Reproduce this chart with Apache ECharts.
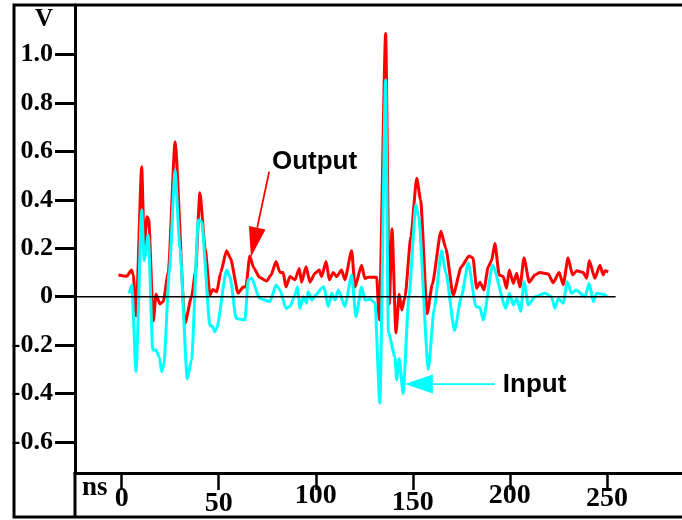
<!DOCTYPE html>
<html><head><meta charset="utf-8">
<script src="https://cdn.jsdelivr.net/npm/echarts@6/dist/echarts.min.js"></script>
<style>html,body{margin:0;padding:0;background:#fff}#c{width:682px;height:520px}</style>
</head><body><div id="c"></div>
<script>
// ---- data (ns, V) ----
const outputTime = [-1.7,2.6,5.1,6,7.4,10.3,11.6,13.0,13.9,16.3,17.7,19.7,21.4,24,27.5,32.6,36,38,40.3,43,45.5,47,49,51,54,56,60,62.6,64,66,68,71,74.7,77,79.5,81.6,83.2,84.6,86.7,89.3,91.5,92.7,95,97,99.6,101.8,103,105.3,107,109,110.8,113.3,115,118.5,120.2,123.6,125.3,127,129,131.4,132.7,136,137.9,139.3,141.3,143,144.3,146,149,152,154,157.4,160,164.5,167,170.8,175,179,181,182.9,184.6,186.6,188.9,190.6,192.3,194.5,196.6,198.3,199.7,201.8,203.5,205.2,207.3,210,212.9,215.5,219.8,222.3,225.4,227.5,230,232.3,234.4,237.8,239.6,240.9,243.8,246.4,248.1,249,250.7];
const outputVolt = [0.09,0.085,0.11,0.09,-0.08,0.537,0.21,0.33,0.32,-0.10,0.01,-0.03,-0.02,0.1,0.64,-0.11,0.0,0.1,0.43,0.2,0.007,0.03,0.02,0.1,0.19,0.16,0.015,0.04,0.04,0.168,0.12,0.08,0.065,0.09,0.145,0.10,0.1,0.04,0.083,0.07,0.117,0.06,0.124,0.06,0.097,0.11,0.083,0.145,0.07,0.10,0.083,0.11,0.07,0.19,0.04,0.13,0.075,0.08,0.08,0.08,-0.096,1.088,-0.03,0.28,-0.15,0.01,-0.055,0.0,0.25,0.49,0.4,-0.07,0.05,0.27,0.2,0.007,0.124,0.168,0.16,0.035,0.06,0.028,0.124,0.15,0.22,0.09,0.083,0.035,0.11,0.055,0.097,0.04,0.16,0.06,0.09,0.10,0.094,0.058,0.1,0.05,0.16,0.09,0.107,0.1,0.076,0.15,0.076,0.13,0.09,0.107,0.103];
const inputTime = [3.9,5.2,7.4,10.3,11.6,13.7,16,17.7,19.4,20.6,21.8,24.5,27.5,30,33.8,36,39.5,41.2,45.5,46.5,48,49,54,55.8,59,63.5,65.2,67,71,76.4,79.5,81.6,84.6,86.7,89.3,90.5,91.9,93.6,95.3,96,97.9,100.5,103,104.2,106.4,108.2,109.9,111.6,115,118.5,120.7,123.6,125.3,128,130.5,133,136,137.4,140.8,141.7,143,145,148,151.6,153,158,161,164.8,167,171.5,175,178.6,182.5,184.6,186.3,191.1,198,199.7,201.8,203.5,205.6,207.3,209.5,212.9,218.1,221.5,223.2,225,227.5,229.6,231.8,234.1,238.7,240.9,243,244.7,247.3,250.2];
const inputVolt = [0.014,0.048,-0.31,0.358,0.15,0.255,-0.22,-0.22,-0.25,-0.31,-0.275,0.1,0.52,0.2,-0.34,-0.26,0.317,0.31,-0.12,-0.12,-0.145,-0.13,0.11,0.083,-0.09,-0.096,0.07,0.076,-0.007,-0.02,0.048,0.028,-0.048,-0.04,0.007,0.04,-0.048,0.0,-0.027,0.02,-0.014,0.011,0.035,0.041,-0.041,0.014,-0.014,0.028,-0.04,0.09,-0.083,0.04,-0.014,-0.01,-0.025,-0.44,0.895,-0.145,-0.25,-0.344,-0.255,-0.4,0.0,0.38,0.33,-0.30,-0.05,0.19,0.1,-0.14,0.0,0.14,-0.04,-0.045,-0.096,0.13,-0.048,0.014,-0.034,-0.007,-0.06,0.062,-0.034,0.0,0.014,0.0,-0.048,-0.007,-0.027,0.062,0.014,0.028,0.0,0.055,-0.02,0.014,0.011,0.003];
const zeroLineTime = [-24.06, 254.5];
const zeroLineVolt = [0, 0];
const xTickValues = [0, 50, 100, 150, 200, 250];
const yTickValues = [-0.6, -0.4, -0.2, 0, 0.2, 0.4, 0.6, 0.8, 1.0];
const xAxisName = 'ns';
const yAxisName = 'V';
const outputLabel = 'Output';
const inputLabel = 'Input';

// annotation anchors in data units
const outputAnno = { textAt: [77.4, 0.557], from: [76.0, 0.517], to: [66.6, 0.164] };
const inputAnno  = { textAt: [196.4, -0.365], from: [192.3, -0.361], to: [145.9, -0.361] };

const zip = (a, b) => a.map((v, i) => [v, b[i]]);

const chart = echarts.init(document.getElementById('c'), null, { renderer: 'canvas' });
const serif = '"Liberation Serif", "Times New Roman", serif';
const sans = '"Liberation Sans", Arial, Helvetica, sans-serif';

// line heights used to stagger the x tick labels vertically, as in the original
const xLineHeights = { 0: 42, 50: 52, 100: 36, 150: 50, 200: 36, 250: 42 };
const Y_MIN = -0.7285, Y_MAX = 1.2054;

chart.setOption({
  animation: false,
  backgroundColor: '#fff',
  grid: { left: 75, top: 5, right: 0, bottom: 47, containLabel: false },
  xAxis: {
    type: 'value', min: -24.06, max: 288.7, position: 'bottom',
    axisLine: { show: true, onZero: false, lineStyle: { color: '#000', width: 3 } },
    axisTick: { show: true, inside: false, customValues: xTickValues, length: 17, lineStyle: { color: '#000', width: 2.5 } },
    axisLabel: {
      show: true, customValues: xTickValues, margin: 5, verticalAlign: 'top',
      formatter: v => '{t' + Math.round(v) + '|' + Math.round(v) + '}',
      rich: Object.fromEntries(xTickValues.map(v => ['t' + v, {
        fontFamily: serif, fontWeight: 'bold', fontSize: 28, color: '#000', lineHeight: xLineHeights[v]
      }]))
    },
    splitLine: { show: false }
  },
  yAxis: {
    type: 'value', min: Y_MIN, max: Y_MAX,
    axisLine: { show: true, onZero: false, lineStyle: { color: '#000', width: 3 } },
    axisTick: { show: true, customValues: yTickValues, length: 20, lineStyle: { color: '#000', width: 3 } },
    axisLabel: {
      show: true, customValues: yTickValues, margin: 22,
      fontFamily: serif, fontWeight: 'bold', fontSize: 26, color: '#000',
      formatter: v => (Math.abs(v) < 1e-9 ? '0' : v.toFixed(1))
    },
    splitLine: { show: false }
  },
  series: [
    { name: 'Output', type: 'line', data: zip(outputTime, outputVolt), symbol: 'none', smooth: 0.2, smoothMonotone: 'x',
      lineStyle: { color: '#ff0000', width: 3 }, z: 2 },
    { name: 'Input', type: 'line', data: zip(inputTime, inputVolt), symbol: 'none', smooth: 0.2, smoothMonotone: 'x',
      lineStyle: { color: '#00ffff', width: 3 }, z: 3 },
    { name: 'zero', type: 'line', data: zip(zeroLineTime, zeroLineVolt), symbol: 'none',
      lineStyle: { color: '#000', width: 1.5 }, z: 4 }
  ]
});

function arrow(anno, color, lineW, headLen, headW) {
  const s = chart.convertToPixel({ gridIndex: 0 }, anno.from);
  const t = chart.convertToPixel({ gridIndex: 0 }, anno.to);
  const dx = t[0] - s[0], dy = t[1] - s[1];
  const L = Math.hypot(dx, dy);
  const ux = dx / L, uy = dy / L;
  const bx = t[0] - ux * headLen, by = t[1] - uy * headLen;
  const nx = -uy, ny = ux;
  return [
    { type: 'line', shape: { x1: s[0], y1: s[1], x2: bx, y2: by }, style: { stroke: color, lineWidth: lineW }, z: 100 },
    { type: 'polygon', shape: { points: [[t[0], t[1]], [bx + nx * headW / 2, by + ny * headW / 2], [bx - nx * headW / 2, by - ny * headW / 2]] },
      style: { fill: color }, z: 100 }
  ];
}
function label(anno, text) {
  const p = chart.convertToPixel({ gridIndex: 0 }, anno.textAt);
  return { type: 'text', x: p[0], y: p[1], z: 100,
    style: { text: text, font: 'bold 26px ' + sans, fill: '#000', align: 'left', verticalAlign: 'middle' } };
}

const graphics = [
  { type: 'polyline', shape: { points: [[700, 5], [14, 5], [14, 517], [700, 517]] }, style: { stroke: '#000', lineWidth: 3, fill: null }, z: 50 },
  { type: 'line', shape: { x1: 75, y1: 472, x2: 75, y2: 518 }, style: { stroke: '#000', lineWidth: 3 }, z: 50 },
  { type: 'text', x: 44, y: 20, z: 50, style: { text: yAxisName, font: 'bold 25px ' + serif, fill: '#000', align: 'center', verticalAlign: 'middle' } },
  { type: 'text', x: 82, y: 488, z: 50, style: { text: xAxisName, font: 'bold 27px ' + serif, fill: '#000', align: 'left', verticalAlign: 'middle' } },
  ...arrow(outputAnno, '#ff0000', 1.8, 30, 17),
  ...arrow(inputAnno, '#00ffff', 1.8, 28, 19),
  label(outputAnno, outputLabel),
  label(inputAnno, inputLabel)
];
chart.setOption({ graphic: graphics });
</script>
</body></html>
